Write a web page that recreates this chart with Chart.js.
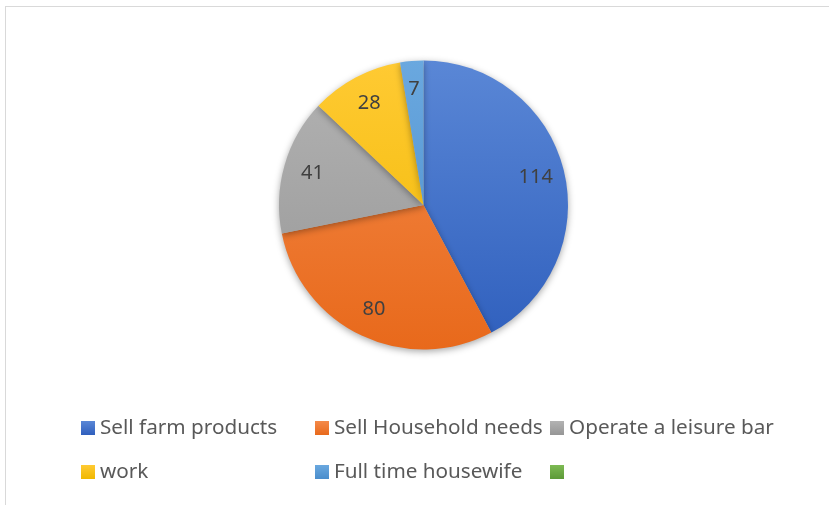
<!DOCTYPE html>
<html>
<head>
<meta charset="utf-8">
<script src="https://cdn.jsdelivr.net/npm/chart.js@4.4.0/dist/chart.umd.min.js"></script>
<style>
  html, body { margin: 0; padding: 0; background: #fff; }
  #wrap { position: relative; width: 829px; height: 505px; overflow: hidden; }
  #frame { position: absolute; left: 5px; top: 6px; width: 900px; height: 600px; border: 1px solid #d9d9d9; box-sizing: border-box; }
  canvas { position: absolute; left: 0; top: 0; }
  #legend { position: absolute; left: 0; top: 0; font-family: "Noto Sans", "Open Sans", sans-serif; font-size: 20.7px; color: #595959; }
  .item { position: absolute; white-space: nowrap; line-height: 24px; }
  .sw { display: inline-block; width: 14px; height: 14px; vertical-align: -1px; margin-right: 5px; }
</style>
</head>
<body>
<div id="wrap">
  <div id="frame"></div>
  <canvas id="c" width="829" height="505"></canvas>
  <div id="legend"></div>
</div>
<script>
const categories = ["Sell farm products", "Sell Household needs", "Operate a leisure bar", "work", "Full time housewife", ""];
const values = [114, 80, 41, 28, 7, 0];
const colorsTop = ["#5a87d6", "#f48a4a", "#b3b3b3", "#ffca33", "#6aa8df", "#7dba53"];
const colorsBottom = ["#2f5fbd", "#e8691b", "#969696", "#f0b800", "#4a8dcc", "#5d9a38"];

function grad(ctx, i) {
  const chart = ctx.chart;
  const a = chart.chartArea;
  if (!a) return colorsTop[i];
  const g = chart.ctx.createLinearGradient(0, a.top, 0, a.bottom);
  g.addColorStop(0, colorsTop[i]);
  g.addColorStop(1, colorsBottom[i]);
  return g;
}

const shadowPlugin = {
  id: 'shadow',
  beforeDatasetsDraw(chart) {
    const c = chart.ctx;
    c.save();
    c.shadowColor = 'rgba(0,0,0,0.35)';
    c.shadowBlur = 7;
    c.shadowOffsetX = 0;
    c.shadowOffsetY = 2;
  },
  afterDatasetsDraw(chart) {
    chart.ctx.restore();
  }
};

const labelPlugin = {
  id: 'sliceLabels',
  afterDatasetsDraw(chart) {
    const c = chart.ctx;
    const meta = chart.getDatasetMeta(0);
    c.save();
    c.font = '20px "Noto Sans", "Open Sans", sans-serif';
    c.fillStyle = '#404040';
    c.textAlign = 'center';
    c.textBaseline = 'middle';
    meta.data.forEach((arc, i) => {
      const v = values[i];
      if (!v) return;
      const p = arc.getProps(['x', 'y', 'startAngle', 'endAngle', 'outerRadius'], true);
      const mid = (p.startAngle + p.endAngle) / 2;
      const r = p.outerRadius * 0.8;
      c.fillText(String(v), p.x + Math.cos(mid) * r, p.y + Math.sin(mid) * r);
    });
    c.restore();
  }
};

new Chart(document.getElementById('c'), {
  type: 'pie',
  data: {
    labels: categories,
    datasets: [{
      data: values,
      backgroundColor: (ctx) => grad(ctx, ctx.dataIndex),
      borderWidth: 0
    }]
  },
  options: {
    responsive: false,
    animation: false,
    layout: { padding: { left: 279, right: 261, top: 60, bottom: 155 } },
    plugins: { legend: { display: false }, tooltip: { enabled: false } }
  },
  plugins: [shadowPlugin, labelPlugin]
});

// Legend (grid layout like the original)
const legendPos = [[81, 427], [315, 427], [550, 427], [81, 471], [315, 471], [550, 471]];
const leg = document.getElementById('legend');
categories.forEach((name, i) => {
  const d = document.createElement('div');
  d.className = 'item';
  d.style.left = legendPos[i][0] + 'px';
  d.style.top = (legendPos[i][1] - 13) + 'px';
  const s = document.createElement('span');
  s.className = 'sw';
  s.style.background = 'linear-gradient(' + colorsTop[i] + ',' + colorsBottom[i] + ')';
  d.appendChild(s);
  d.appendChild(document.createTextNode(name));
  leg.appendChild(d);
});
</script>
</body>
</html>
